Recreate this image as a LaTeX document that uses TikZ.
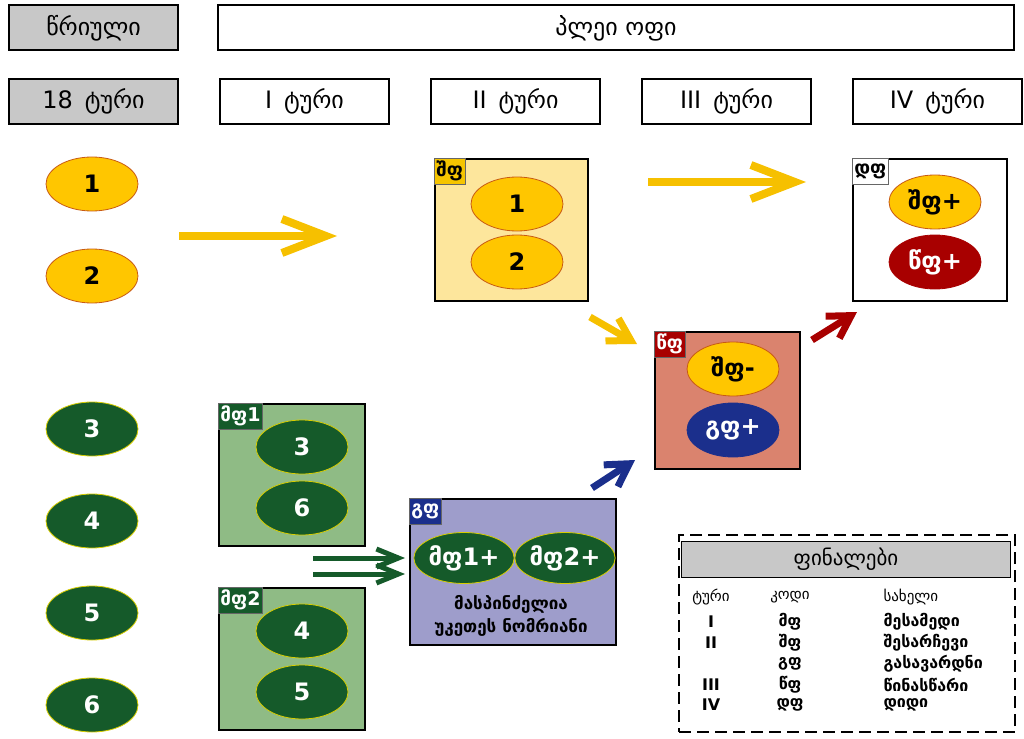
\documentclass[tikz,border=0pt]{standalone}
\usepackage{fontspec}
\setmainfont{DejaVu Sans}
\usetikzlibrary{shapes.geometric, arrows.meta, positioning}

\definecolor{hdrgray}{RGB}{200,200,200}
\definecolor{ovalyel}{RGB}{255,198,0}
\definecolor{yelline}{RGB}{200,90,20}
\definecolor{paleyel}{RGB}{253,230,156}
\definecolor{tagyel}{RGB}{245,196,0}
\definecolor{ovalgrn}{RGB}{21,90,42}
\definecolor{grnline}{RGB}{215,205,0}
\definecolor{palegrn}{RGB}{143,187,133}
\definecolor{salmon}{RGB}{218,131,110}
\definecolor{darkred}{RGB}{168,0,0}
\definecolor{ovalblue}{RGB}{27,47,140}
\definecolor{lavender}{RGB}{158,157,203}
\definecolor{arrowyel}{RGB}{246,192,0}

\begin{document}
\begin{tikzpicture}[x=1pt, y=-1pt]
    % settings for this picture
    \tikzset{
      hdr/.style={draw, line width=2pt, minimum width=169pt, minimum height=45pt,
        inner sep=0, font=\fontsize{24}{28}\selectfont},
      grayhdr/.style={hdr, fill=hdrgray},
      oval/.style={ellipse, minimum width=92pt, minimum height=54pt, inner sep=0,
        line width=0.8pt, font=\bfseries\fontsize{24}{28}\selectfont},
      yel/.style={oval, fill=ovalyel, draw=yelline},
      grn/.style={oval, fill=ovalgrn, draw=grnline, text=white},
      box/.style={draw, line width=2pt, anchor=north west, inner sep=0},
      tag/.style={anchor=north west, draw=black!60, line width=0.6pt, inner sep=2pt,
        minimum height=26pt, font=\bfseries\fontsize{19}{21}\selectfont},
      legtxt/.style={font=\bfseries\fontsize{16}{18}\selectfont},
      fat/.style={line width=8pt, -{Straight Barb[length=44pt, width=34pt]}},
      slim/.style={line width=7pt, -{Straight Barb[length=22pt, width=26pt]}},
      thin/.style={line width=5pt, -{Straight Barb[length=22pt, width=18pt]}},
    }
    \useasboundingbox (0,0) rectangle (1024,738);

    % headers
    \node[grayhdr] (rr) at (93.5,28) {წრიული};
    \node[hdr, minimum width=796pt] (po) at (616,28) {პლეი ოფი};
    \node[grayhdr] (t18) at (93.5,101.5) {18\enspace ტური};
    \node[hdr, right=40pt of t18] (t1) {I\enspace ტური};
    \node[hdr, right=40pt of t1] (t2) {II\enspace ტური};
    \node[hdr, right=40pt of t2] (t3) {III\enspace ტური};
    \node[hdr, right=40pt of t3] (t4) {IV\enspace ტური};

    % teams
    \node[yel] (c1) at (92,184) {1};
    \node[yel] (c2) at (92,276) {2};
    \node[grn] (c3) at (92,429) {3};
    \node[grn] (c4) at (92,521) {4};
    \node[grn] (c5) at (92,613) {5};
    \node[grn] (c6) at (92,705) {6};

    % I round
    \node[box, fill=palegrn, minimum width=146pt, minimum height=142pt] (mf1) at (218,403) {};
    \node[tag, fill=ovalgrn, text=white] (mf1tag) at (mf1.north west) {მფ1};
    \node[grn] (mf1a) at (302,447) {3};
    \node[grn] (mf1b) at (302,508) {6};
    \node[box, fill=palegrn, minimum width=146pt, minimum height=142pt] (mf2) at (218,587) {};
    \node[tag, fill=ovalgrn, text=white] (mf2tag) at (mf2.north west) {მფ2};
    \node[grn] (mf2a) at (302,631) {4};
    \node[grn] (mf2b) at (302,692) {5};

    % II round
    \node[box, fill=paleyel, minimum width=153pt, minimum height=142pt] (sf) at (434,158) {};
    \node[tag, fill=tagyel] (sftag) at (sf.north west) {შფ};
    \node[yel] (sfa) at (517,204) {1};
    \node[yel] (sfb) at (517,262) {2};
    \node[box, fill=lavender, minimum width=206pt, minimum height=146pt] (gf) at (409,498) {};
    \node[tag, fill=ovalblue, text=white] (gftag) at (gf.north west) {გფ};
    \node[grn, minimum height=51pt] (gfa) at (464,558) {მფ1+};
    \node[grn, minimum height=51pt] (gfb) at (565,558) {მფ2+};
    \node[align=center, font=\bfseries\fontsize{17}{23}\selectfont] (gftxt) at (511,616)
      {მასპინძელია\\უკეთეს ნომრიანი};

    % III round
    \node[box, fill=salmon, minimum width=145pt, minimum height=137pt] (wf) at (654,331) {};
    \node[tag, fill=darkred, text=white] (wftag) at (wf.north west) {წფ};
    \node[yel] (wfa) at (733,369) {შფ-};
    \node[oval, fill=ovalblue, draw=ovalblue, text=white] (wfb) at (733,430) {გფ+};

    % IV round
    \node[box, fill=white, minimum width=154pt, minimum height=142pt] (df) at (852,158) {};
    \node[tag, fill=white] (dftag) at (df.north west) {დფ};
    \node[yel] (dfa) at (935,202) {შფ+};
    \node[oval, fill=darkred, draw=darkred, text=white] (dfb) at (935,262) {წფ+};

    % arrows
    \coordinate (a1s) at (179,236);  \coordinate (a1e) at (337,236);
    \coordinate (a2s) at (648,182);  \coordinate (a2e) at (806,182);
    \coordinate (a3s) at (590,317);  \coordinate (a3e) at (637,344);
    \coordinate (a4s) at (812,340);  \coordinate (a4e) at (857,312);
    \coordinate (a5s) at (592,488);  \coordinate (a5e) at (635,460);
    \coordinate (a6s) at (313,558);  \coordinate (a6e) at (405,558);
    \coordinate (a7s) at (313,574);  \coordinate (a7e) at (405,574);
    \draw[fat, arrowyel] (a1s) -- (a1e);
    \draw[fat, arrowyel] (a2s) -- (a2e);
    \draw[slim, arrowyel] (a3s) -- (a3e);
    \draw[slim, darkred] (a4s) -- (a4e);
    \draw[slim, ovalblue] (a5s) -- (a5e);
    \draw[thin, ovalgrn] (a6s) -- (a6e);
    \draw[thin, ovalgrn] (a7s) -- (a7e);

    % legend
    \node[box, dashed, dash pattern=on 12pt off 6pt, minimum width=336pt, minimum height=197pt] (lg) at (678,534) {};
    \node[draw, fill=hdrgray, line width=1pt, anchor=north west, minimum width=329pt, minimum height=36pt,
      inner sep=0, font=\fontsize{21}{25}\selectfont] (lgh) at (681,541) {ფინალები};
    \node[font=\fontsize{15}{17}\selectfont] (lgt) at (711,597) {ტური};
    \node[font=\fontsize{15}{17}\selectfont] (lgk) at (790,597) {კოდი};
    \node[anchor=west, font=\fontsize{15}{17}\selectfont] (lgn) at (880,597) {სახელი};
    \foreach \r/\k/\n/\y in {I/მფ/მესამედი/622, II/შფ/შესარჩევი/643, /გფ/გასავარდნი/664,
                             III/წფ/წინასწარი/685, IV/დფ/დიდი/705} {
      \node[legtxt] (lr\y) at (711,\y) {\r};
      \node[legtxt] (lk\y) at (790,\y) {\k};
      \node[legtxt, anchor=west] (ln\y) at (880,\y) {\n};
    }

  \end{tikzpicture}
\end{document}
